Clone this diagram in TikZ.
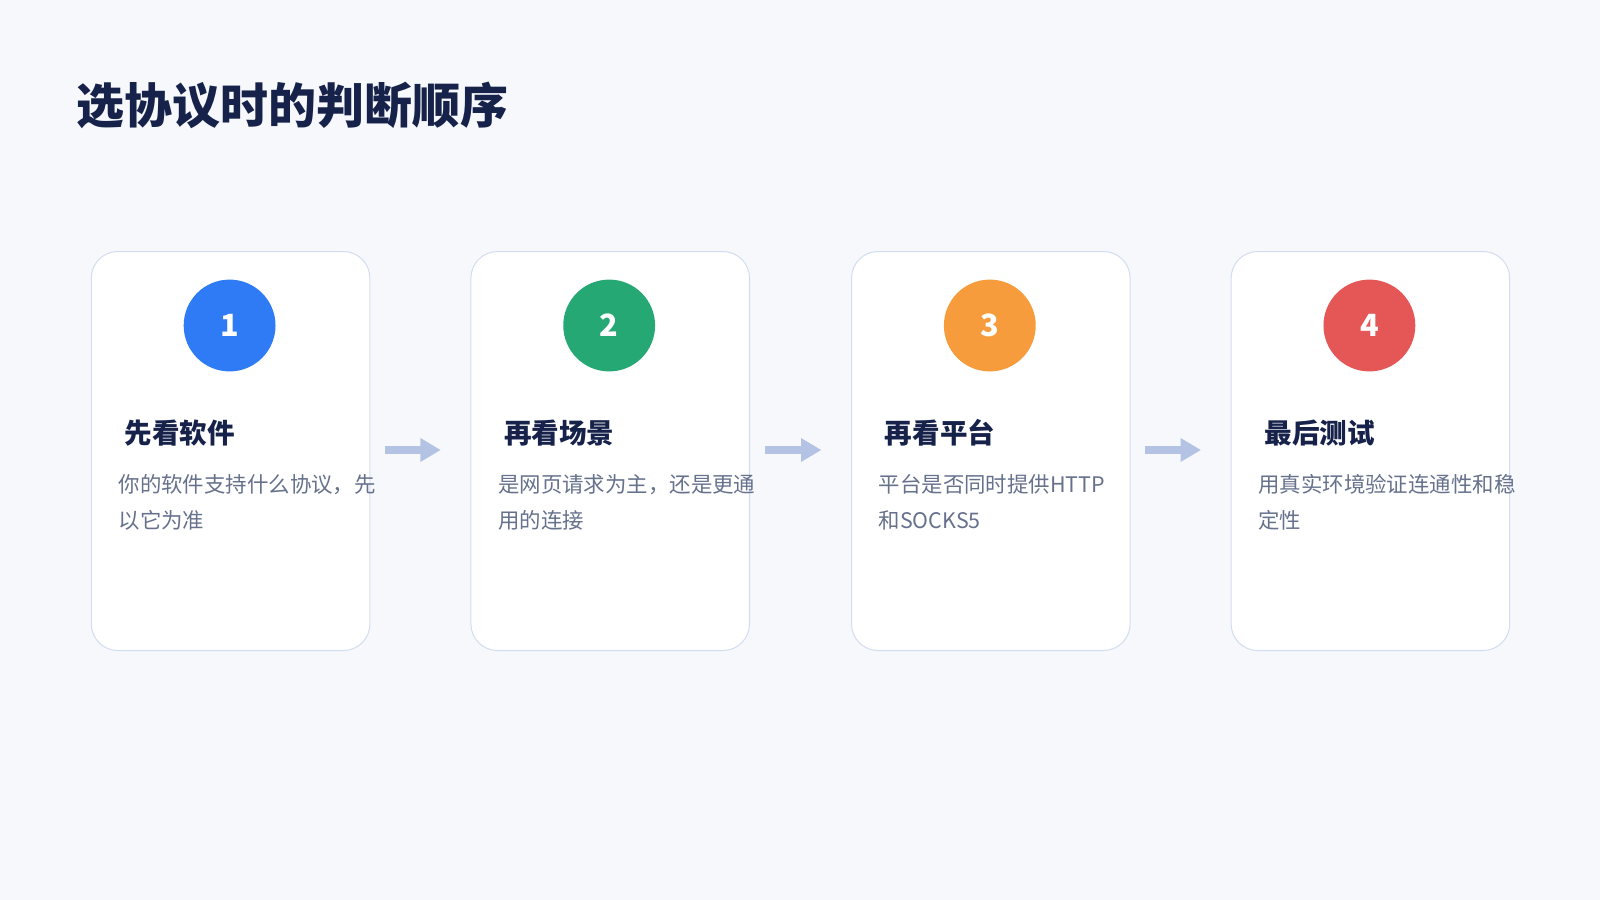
\documentclass[tikz,border=0pt]{standalone}
\usepackage{fontspec}
\setmainfont{Noto Sans CJK SC}
\usetikzlibrary{arrows.meta}
\begin{document}
\definecolor{bg}{HTML}{F6F8FC}
\definecolor{navy}{HTML}{16224A}
\definecolor{body}{HTML}{66718C}
\definecolor{bord}{HTML}{D3DDF2}
\definecolor{arr}{HTML}{B4C3E3}
\definecolor{c1}{HTML}{2F7BF6}
\definecolor{c2}{HTML}{26A874}
\definecolor{c3}{HTML}{F69C3C}
\definecolor{c4}{HTML}{E55757}
\begin{tikzpicture}[x=1pt,y=-1pt,
  card/.style={draw=bord,line width=1pt,fill=white,rounded corners=26pt,minimum width=273pt,minimum height=391pt,anchor=north west},
  num/.style={circle,minimum size=90pt,inner sep=0,text=white,font=\fontsize{30}{30}\selectfont\bfseries},
  head/.style={anchor=west,text=navy,font=\fontsize{27}{27}\selectfont\bfseries,inner sep=0},
  txt/.style={anchor=north west,text=body,font=\fontsize{21}{35}\selectfont,inner sep=0,align=left},
  flow/.style={draw=arr,line width=7pt,-{Triangle[length=20pt,width=22pt]}}]
\useasboundingbox[fill=bg] (0,0) rectangle (1568,882);
\node[anchor=west,text=navy,font=\fontsize{47}{47}\selectfont\bfseries,inner sep=0] (title) at (75,103) {选协议时的判断顺序};
\foreach \i/\x/\c/\h/\a/\b in {1/89/c1/先看软件/你的软件支持什么协议，先/以它为准,
  2/461/c2/再看场景/是网页请求为主，还是更通/用的连接,
  3/834/c3/再看平台/平台是否同时提供HTTP/和SOCKS5,
  4/1206/c4/最后测试/用真实环境验证连通性和稳/定性}{
  \node[card] (card\i) at (\x,246) {};
  \node[num,fill=\c] (n\i) at (\x+136,319) {\i};
  \node[head] (h\i) at (\x+33,424) {\h};
  \node[txt] (t\i) at (\x+27,465) {\a\\\b};
}
\foreach \x [count=\k] in {377,750,1122}{
  \coordinate (s\k) at (\x,441); \coordinate (e\k) at (\x+55,441);
  \draw[flow] (s\k) -- (e\k);
}
\end{tikzpicture}
\end{document}
